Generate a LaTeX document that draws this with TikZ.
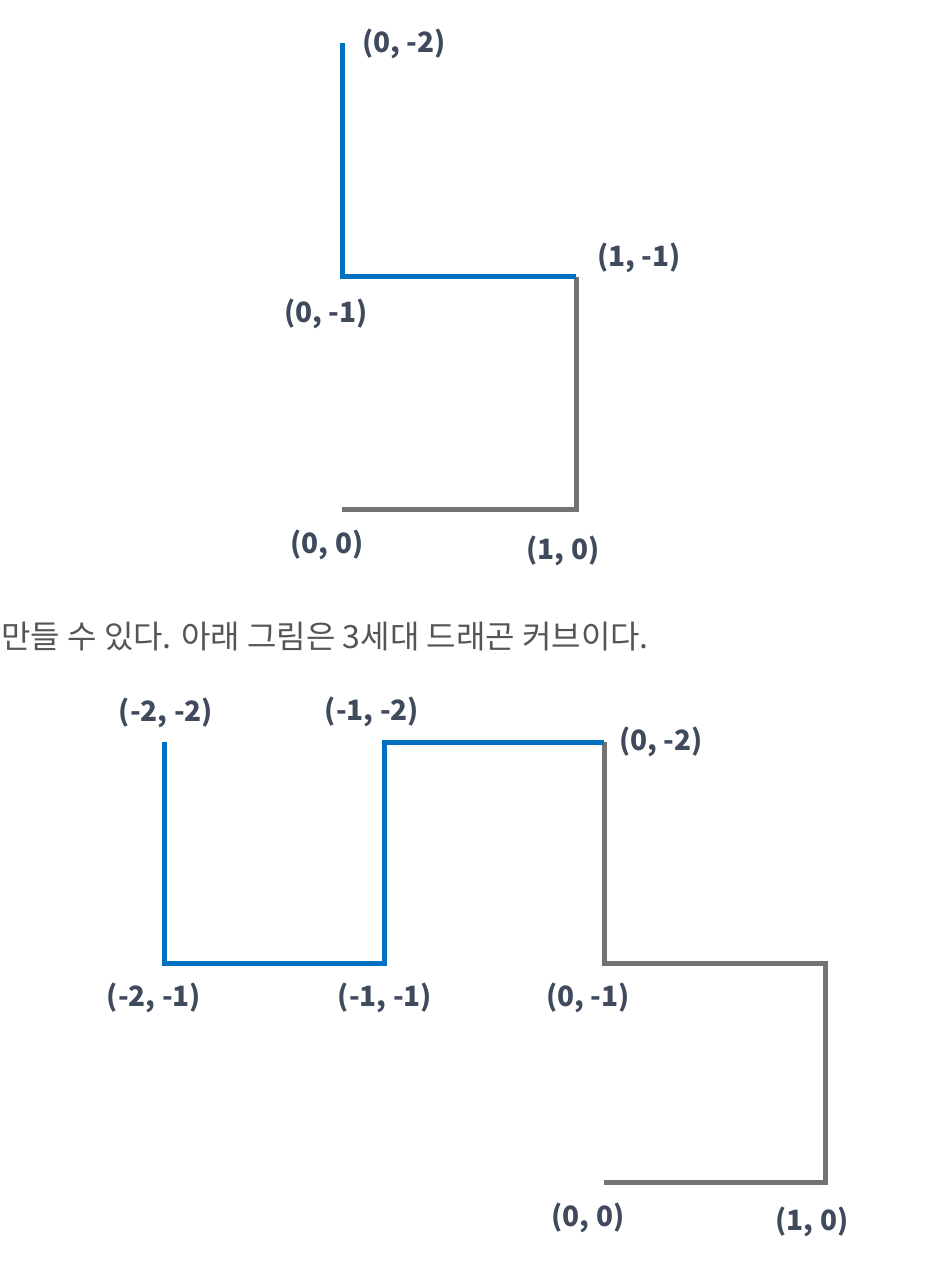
\documentclass[tikz,border=0pt]{standalone}
\usepackage{fontspec}
\setmainfont{Noto Sans CJK KR}
\definecolor{curveblue}{HTML}{0070C0}
\definecolor{curvegrey}{HTML}{737373}
\definecolor{labelcol}{HTML}{3F4A5C}
\definecolor{textcol}{HTML}{555555}
\tikzset{
  bluepath/.style={draw=curveblue, line width=2.5pt, line join=miter},
  greypath/.style={draw=curvegrey, line width=2.5pt, line join=miter},
  ptlabel/.style={text=labelcol, font=\fontsize{14}{17}\selectfont\bfseries, inner sep=0pt},
  bodytext/.style={text=textcol, font=\fontsize{16}{19}\selectfont, inner sep=0pt, anchor=west}
}
\begin{document}
\begin{tikzpicture}[x=0.5pt, y=-0.5pt]
\useasboundingbox (0,0) rectangle (936,1277);
% ---- top: 2nd generation ----
\coordinate (tA) at (342,509);
\coordinate (tB) at (576,509);
\coordinate (tC) at (576,277);
\coordinate (tD) at (342,277);
\coordinate (tE) at (342,43);
\draw[greypath] (tA) -- (tB) -- (tC);
\draw[bluepath] (tC) -- (tD) -- (tE);
\node[ptlabel] (lE) at (404,44) {(0, -2)};
\node[ptlabel] (lC) at (639,258) {(1, -1)};
\node[ptlabel] (lD) at (326,314) {(0, -1)};
\node[ptlabel] (lA) at (327,545) {(0, 0)};
\node[ptlabel] (lB) at (563,551) {(1, 0)};
% ---- text ----
\node[bodytext] (txt) at (1,637) {만들 수 있다. 아래 그림은 3세대 드래곤 커브이다.};
% ---- bottom: 3rd generation ----
\coordinate (b00) at (604,1182);
\coordinate (b10) at (825,1182);
\coordinate (b1m1) at (825,963);
\coordinate (b0m1) at (604,963);
\coordinate (b0m2) at (604,742);
\coordinate (bm1m2) at (384,742);
\coordinate (bm1m1) at (384,963);
\coordinate (bm2m1) at (164,963);
\coordinate (bm2m2) at (164,742);
\draw[greypath] (b00) -- (b10) -- (b1m1) -- (b0m1) -- (b0m2);
\draw[bluepath] (b0m2) -- (bm1m2) -- (bm1m1) -- (bm2m1) -- (bm2m2);
\node[ptlabel] (l1) at (166,713) {(-2, -2)};
\node[ptlabel] (l2) at (372,712) {(-1, -2)};
\node[ptlabel] (l3) at (661,742) {(0, -2)};
\node[ptlabel] (l4) at (154,998) {(-2, -1)};
\node[ptlabel] (l5) at (385,998) {(-1, -1)};
\node[ptlabel] (l6) at (588,998) {(0, -1)};
\node[ptlabel] (l7) at (588,1218) {(0, 0)};
\node[ptlabel] (l8) at (812,1222) {(1, 0)};
\end{tikzpicture}
\end{document}
